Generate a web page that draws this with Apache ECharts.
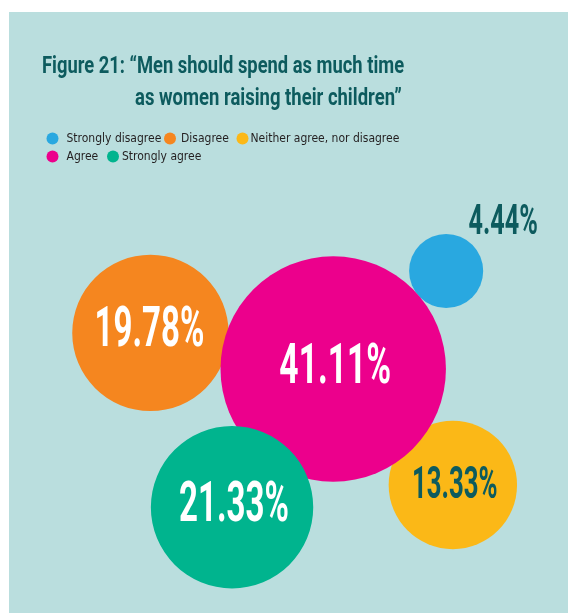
<!DOCTYPE html>
<html>
<head>
<meta charset="utf-8">
<script src="https://cdn.jsdelivr.net/npm/echarts@6/dist/echarts.min.js"></script>
<style>
  html, body { margin: 0; padding: 0; background: #ffffff; }
  #chart { width: 568px; height: 613px; }
</style>
</head>
<body>
<div id="chart"></div>
<script>
// Survey answers and their shares (%)
const categories = ['Strongly disagree', 'Disagree', 'Neither agree, nor disagree', 'Agree', 'Strongly agree'];
const shares = [4.44, 19.78, 13.33, 41.11, 21.33];

// Where each bubble sits in the cluster (layout units, 0–100 on both axes)
const bubbleX = [78.2, 25.3, 79.4, 58.0, 39.9];
const bubbleY = [43.1, 53.4, 78.7, 59.4, 82.4];

const palette = ['#29a8e0', '#f5861f', '#fbb817', '#ec008c', '#00b48e'];
const DARK = '#0d5b5e';
const PANEL = '#badede';
const FONT = 'Roboto, "Liberation Sans", sans-serif';

// bubble area is proportional to the share
const RADIUS_PER_SQRT = 17.58;

// per-answer label styling
const labelStyle = {
  'Strongly disagree':            { size: 42, color: DARK,      dx: 57, dy: -48, sx: 0.6 },
  'Disagree':                     { size: 56, color: '#ffffff', dx: -1, dy: -1,  sx: 0.59 },
  'Neither agree, nor disagree':  { size: 44, color: DARK,      dx: 2,  dy: 2,   sx: 0.585 },
  'Agree':                        { size: 56, color: '#ffffff', dx: 2,  dy: 0,   sx: 0.6 },
  'Strongly agree':               { size: 56, color: '#ffffff', dx: 2,  dy: 0,   sx: 0.59 }
};

function renderBubble(params, api) {
  const name = categories[params.seriesIndex];
  const v = api.value(2);
  const c = api.coord([api.value(0), api.value(1)]);
  const r = RADIUS_PER_SQRT * Math.sqrt(v);
  const ls = labelStyle[name];
  return {
    type: 'group',
    children: [
      { type: 'circle', shape: { cx: c[0], cy: c[1], r: r }, style: { fill: api.visual('color') } },
      {
        type: 'text',
        x: c[0] + ls.dx,
        y: c[1] + ls.dy,
        scaleX: ls.sx,
        style: {
          text: v.toFixed(2) + '%',
          fill: ls.color,
          fontFamily: FONT,
          fontWeight: 'bold',
          fontSize: ls.size,
          align: 'center',
          verticalAlign: 'middle'
        }
      }
    ]
  };
}

const series = categories.map((name, i) => ({
  type: 'custom',
  name: name,
  coordinateSystem: 'cartesian2d',
  itemStyle: { color: palette[i] },
  renderItem: renderBubble,
  data: [[bubbleX[i], bubbleY[i], shares[i]]],
  silent: true
}));

// legend entries: one component per entry so each sits where it belongs
const legendSlots = [
  { left: 46.5, top: 132.5, pad: 3 },
  { left: 164, top: 132.5, pad: 0 },
  { left: 236.5, top: 132.5, pad: -3 },
  { left: 46.5, top: 150.5, pad: 3 },
  { left: 107, top: 150.5, pad: -2 }
];
const legends = categories.map((name, i) => ({
  data: [name],
  left: legendSlots[i].left,
  top: legendSlots[i].top,
  padding: 0,
  icon: 'circle',
  itemWidth: 12,
  itemHeight: 12,
  selectedMode: false,
  textStyle: {
    color: '#231f20',
    fontFamily: '"DejaVu Sans Condensed", "Liberation Sans Narrow", sans-serif',
    fontSize: 12,
    padding: [0, 0, 0, legendSlots[i].pad]
  }
}));

const chart = echarts.init(document.getElementById('chart'));
chart.setOption({
  backgroundColor: '#ffffff',
  animation: false,
  graphic: [
    { type: 'rect', left: 9, top: 12, shape: { width: 559, height: 601 }, style: { fill: PANEL }, z: -10 },
    {
      type: 'text', x: 42, y: 66.5, scaleX: 0.765,
      style: { text: 'Figure 21: \u201cMen should spend as much time', fill: DARK, fontFamily: FONT, fontWeight: 'bold', fontSize: 24, verticalAlign: 'middle' }
    },
    {
      type: 'text', x: 135, y: 98.5, scaleX: 0.77,
      style: { text: 'as women raising their children\u201d', fill: DARK, fontFamily: FONT, fontWeight: 'bold', fontSize: 24, verticalAlign: 'middle' }
    }
  ],
  legend: legends,
  grid: { left: 9, top: 12, width: 559, height: 601 },
  xAxis: { type: 'value', min: 0, max: 100, show: false },
  yAxis: { type: 'value', min: 0, max: 100, inverse: true, show: false },
  series: series
});
</script>
</body>
</html>
